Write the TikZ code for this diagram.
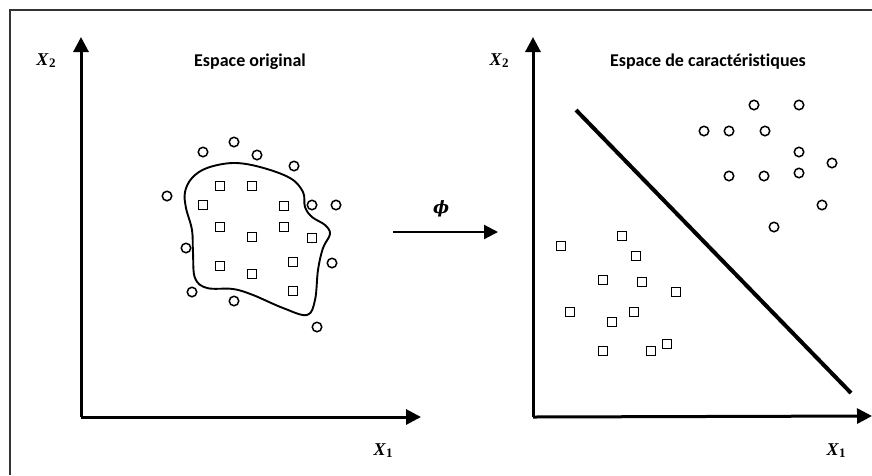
\documentclass[tikz,border=0pt]{standalone}
\usepackage{fontspec}
\setmainfont{Carlito}[Ligatures=NoCommon]
\newfontfamily\mfont{Liberation Serif}
\newfontfamily\phifont{DejaVu Serif}
\usetikzlibrary{arrows.meta}
\newcommand{\axlab}[1]{{\mfont\bfseries\itshape X\kern0.5pt\raisebox{-0.25ex}{\upshape\fontsize{13}{14}\selectfont #1}}}
\newcommand{\boldphi}{{\phifont\bfseries\itshape ϕ}}
\begin{document}
\begin{tikzpicture}[x=1pt,y=-1pt,
  pt/.style={draw,line width=1.5pt,circle,minimum size=9.5pt,inner sep=0pt},
  sq/.style={draw,line width=1.5pt,rectangle,minimum size=9.2pt,inner sep=0pt},
  axis/.style={line width=3pt,-{Triangle[length=15pt,width=15pt]}},
  title/.style={font=\bfseries\fontsize{18}{21}\selectfont},
  lab/.style={font=\fontsize{18}{20}\selectfont},
  philab/.style={font=\fontsize{17}{20}\selectfont}]
\useasboundingbox (0,0) rectangle (872,475);
\draw[line width=1.4pt,black!80] (10,475) -- (10,10) -- (872,10);
% left axes
\coordinate (o1) at (81,417);
\coordinate (y1) at (81,37);
\coordinate (x1) at (421,417);
\draw[axis] (o1) -- (y1);
\draw[axis] (o1) -- (x1);
\node[lab] (lx2a) at (46,61) {\axlab{2}};
\node[lab] (lx1a) at (383,451) {\axlab{1}};
\node[title] (t1) at (250,62) {Espace original};
% right axes
\coordinate (o2) at (533,417);
\coordinate (y2) at (533,37);
\coordinate (x2) at (872,416);
\draw[axis] (o2) -- (y2);
\draw[axis] (o2) -- (x2);
\node[lab] (lx2b) at (499,61) {\axlab{2}};
\node[lab] (lx1b) at (836,451) {\axlab{1}};
\node[title] (t2) at (708,62) {Espace de caractéristiques};
% phi arrow
\coordinate (pa) at (393,232);
\coordinate (pb) at (498,232);
\draw[line width=2.2pt,-{Triangle[length=14pt,width=14pt]}] (pa) -- (pb);
\node[philab] (philabel) at (441,209) {\boldphi};
% separating line
\coordinate (s1) at (576,110);
\coordinate (s2) at (851,393);
\draw[line width=4pt] (s1) -- (s2);
% blob
\draw[line width=1.9pt] plot[smooth cycle,tension=0.6] coordinates {
  (185,192) (192,178) (207,168) (233,163) (260,167) (290,178) (303,192)
  (305,207) (312,217) (325,225) (330,234) (323,248) (318,270) (315,300)
  (307,315) (283,308) (253,295) (233,289) (207,288) (195,278) (193,253)
  (192,230) (186,208)};
% left circles
\foreach \x/\y [count=\i] in {203/152,234/142,257/155,294/166,167/196,312/205,336/205,186/248,332/263,192/292,234/301,317/327}
  \node[pt] (lc\i) at (\x,\y) {};
% left squares
\foreach \x/\y [count=\i] in {220/186,252/186,203/205,284/206,220/227,284/227,252/237,312/238,220/266,252/274,293/262,293/291}
  \node[sq] (ls\i) at (\x,\y) {};
% right circles
\foreach \x/\y [count=\i] in {754/105,799/105,704/131,729/131,765/131,799/152,832/163,729/176,764/176,799/173,822/205,774/227}
  \node[pt] (rc\i) at (\x,\y) {};
% right squares
\foreach \x/\y [count=\i] in {561/246,622/236,636/256,603/280,642/282,676/292,570/312,612/322,634/312,603/351,651/351,667/344}
  \node[sq] (rs\i) at (\x,\y) {};
\end{tikzpicture}
\end{document}
